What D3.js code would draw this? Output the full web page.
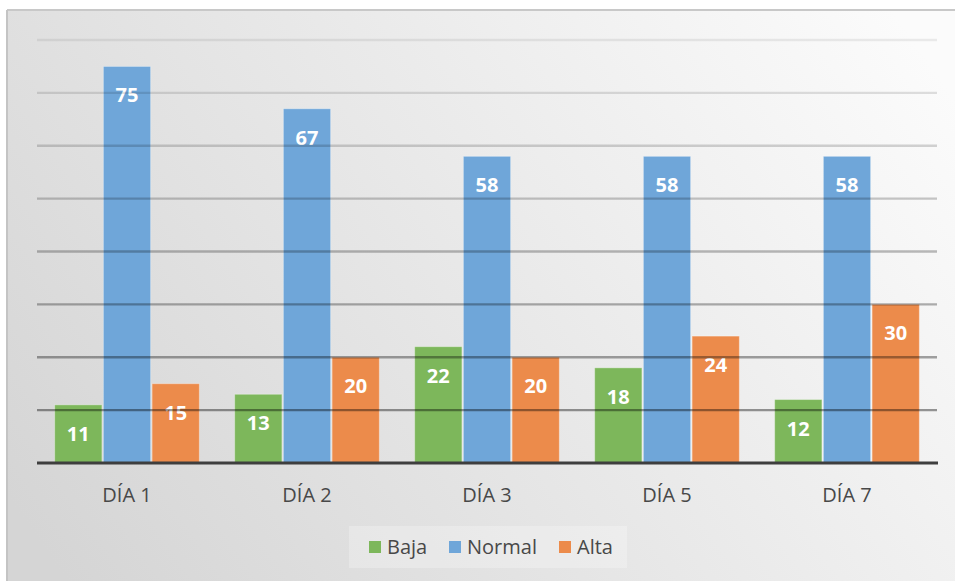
<!DOCTYPE html>
<html>
<head>
<meta charset="utf-8">
<script src="https://cdn.jsdelivr.net/npm/d3@7"></script>
<style>
  html, body { margin: 0; padding: 0; background: #ffffff; }
  svg { display: block; }
</style>
</head>
<body>
<svg id="chart" width="955" height="581"></svg>
<script>
// Categories, series and axis ticks
const categories = ["DÍA 1", "DÍA 2", "DÍA 3", "DÍA 5", "DÍA 7"];
const seriesNames = ["Baja", "Normal", "Alta"];
const baja = [11, 13, 22, 18, 12];
const normal = [75, 67, 58, 58, 58];
const alta = [15, 20, 20, 24, 30];
const gridTicks = [10, 20, 30, 40, 50, 60, 70, 80];

const seriesValues = [baja, normal, alta];
const colors = ["#7db75b", "#6fa6d9", "#ec8b4b"];

const svg = d3.select("#chart");
const defs = svg.append("defs");

// Soft grey backdrop, lighter towards the upper right
const bg = defs.append("linearGradient")
  .attr("id", "bg").attr("gradientUnits", "userSpaceOnUse")
  .attr("x1", 900).attr("y1", 20).attr("x2", 80).attr("y2", 600);
bg.append("stop").attr("offset", "0").attr("stop-color", "#fbfbfb");
bg.append("stop").attr("offset", "0.5").attr("stop-color", "#e8e8e8");
bg.append("stop").attr("offset", "1").attr("stop-color", "#d5d5d5");

svg.append("rect").attr("x", 7).attr("y", 10).attr("width", 948).attr("height", 571)
  .attr("fill", "url(#bg)");
svg.append("line").attr("x1", 7).attr("x2", 955).attr("y1", 10).attr("y2", 10)
  .attr("stroke", "#c8c8c8").attr("stroke-width", 2);
svg.append("line").attr("x1", 7).attr("x2", 7).attr("y1", 10).attr("y2", 581)
  .attr("stroke", "#c4c4c4").attr("stroke-width", 2);

const plot = { left: 37, right: 937, top: 40, bottom: 463 };

const x0 = d3.scaleBand().domain(categories)
  .range([plot.left, plot.right]).paddingInner(0.18).paddingOuter(0.09);
const x1 = d3.scaleBand().domain(seriesNames)
  .range([0, x0.bandwidth()]).padding(0.03);
const y = d3.scaleLinear().domain([0, 80]).range([plot.bottom, plot.top]);

const font = "'Open Sans', 'Noto Sans', sans-serif";

// Bars
const groups = svg.append("g").selectAll("g")
  .data(categories).join("g")
  .attr("transform", d => `translate(${x0(d)},0)`);

groups.selectAll("rect")
  .data((d, i) => seriesNames.map((s, j) => ({ s, j, v: seriesValues[j][i] })))
  .join("rect")
  .attr("x", d => x1(d.s))
  .attr("y", d => y(d.v))
  .attr("width", x1.bandwidth())
  .attr("height", d => y(0) - y(d.v))
  .attr("fill", d => colors[d.j])
  .attr("stroke", "#ffffff").attr("stroke-opacity", 0.35).attr("stroke-width", 1);

// Gridlines on top, darker towards the baseline
const gridAlpha = d3.scaleLinear().domain([80, 10]).range([0.07, 0.4]);
svg.append("g").selectAll("line")
  .data(gridTicks).join("line")
  .attr("x1", plot.left).attr("x2", plot.right)
  .attr("y1", d => y(d)).attr("y2", d => y(d))
  .attr("stroke", "#000").attr("stroke-opacity", d => gridAlpha(d))
  .attr("stroke-width", 2.4);

// Value labels
groups.selectAll("text.val")
  .data((d, i) => seriesNames.map((s, j) => ({ s, j, v: seriesValues[j][i] })))
  .join("text").attr("class", "val")
  .attr("x", d => x1(d.s) + x1.bandwidth() / 2)
  .attr("y", d => y(d.v) + 36)
  .attr("text-anchor", "middle")
  .attr("fill", "#ffffff")
  .attr("font-family", font).attr("font-weight", 700).attr("font-size", 20)
  .text(d => d.v);

// Category axis
const xAxis = svg.append("g")
  .attr("transform", `translate(0,${plot.bottom})`)
  .call(d3.axisBottom(x0).tickSize(0).tickPadding(25));
xAxis.select(".domain").remove();
xAxis.append("line")
  .attr("x1", plot.left).attr("x2", plot.right + 1)
  .attr("y1", 0).attr("y2", 0)
  .attr("stroke", "#3e3e3e").attr("stroke-width", 3);
xAxis.selectAll(".tick text")
  .attr("fill", "#484848")
  .attr("font-family", font).attr("font-size", 20);

// Legend
const legend = svg.append("g");
legend.append("rect").attr("x", 349).attr("y", 526).attr("width", 278).attr("height", 42)
  .attr("fill", "#ffffff").attr("fill-opacity", 0.25);
const legendX = [369, 449, 559];
const items = legend.selectAll("g.item").data(seriesNames).join("g")
  .attr("class", "item")
  .attr("transform", (d, i) => `translate(${legendX[i]},541)`);
items.append("rect").attr("width", 12).attr("height", 12)
  .attr("fill", (d, i) => colors[i]);
items.append("text").attr("x", 18).attr("y", 13)
  .attr("fill", "#484848")
  .attr("font-family", font).attr("font-size", 20)
  .text(d => d);
</script>
</body>
</html>
